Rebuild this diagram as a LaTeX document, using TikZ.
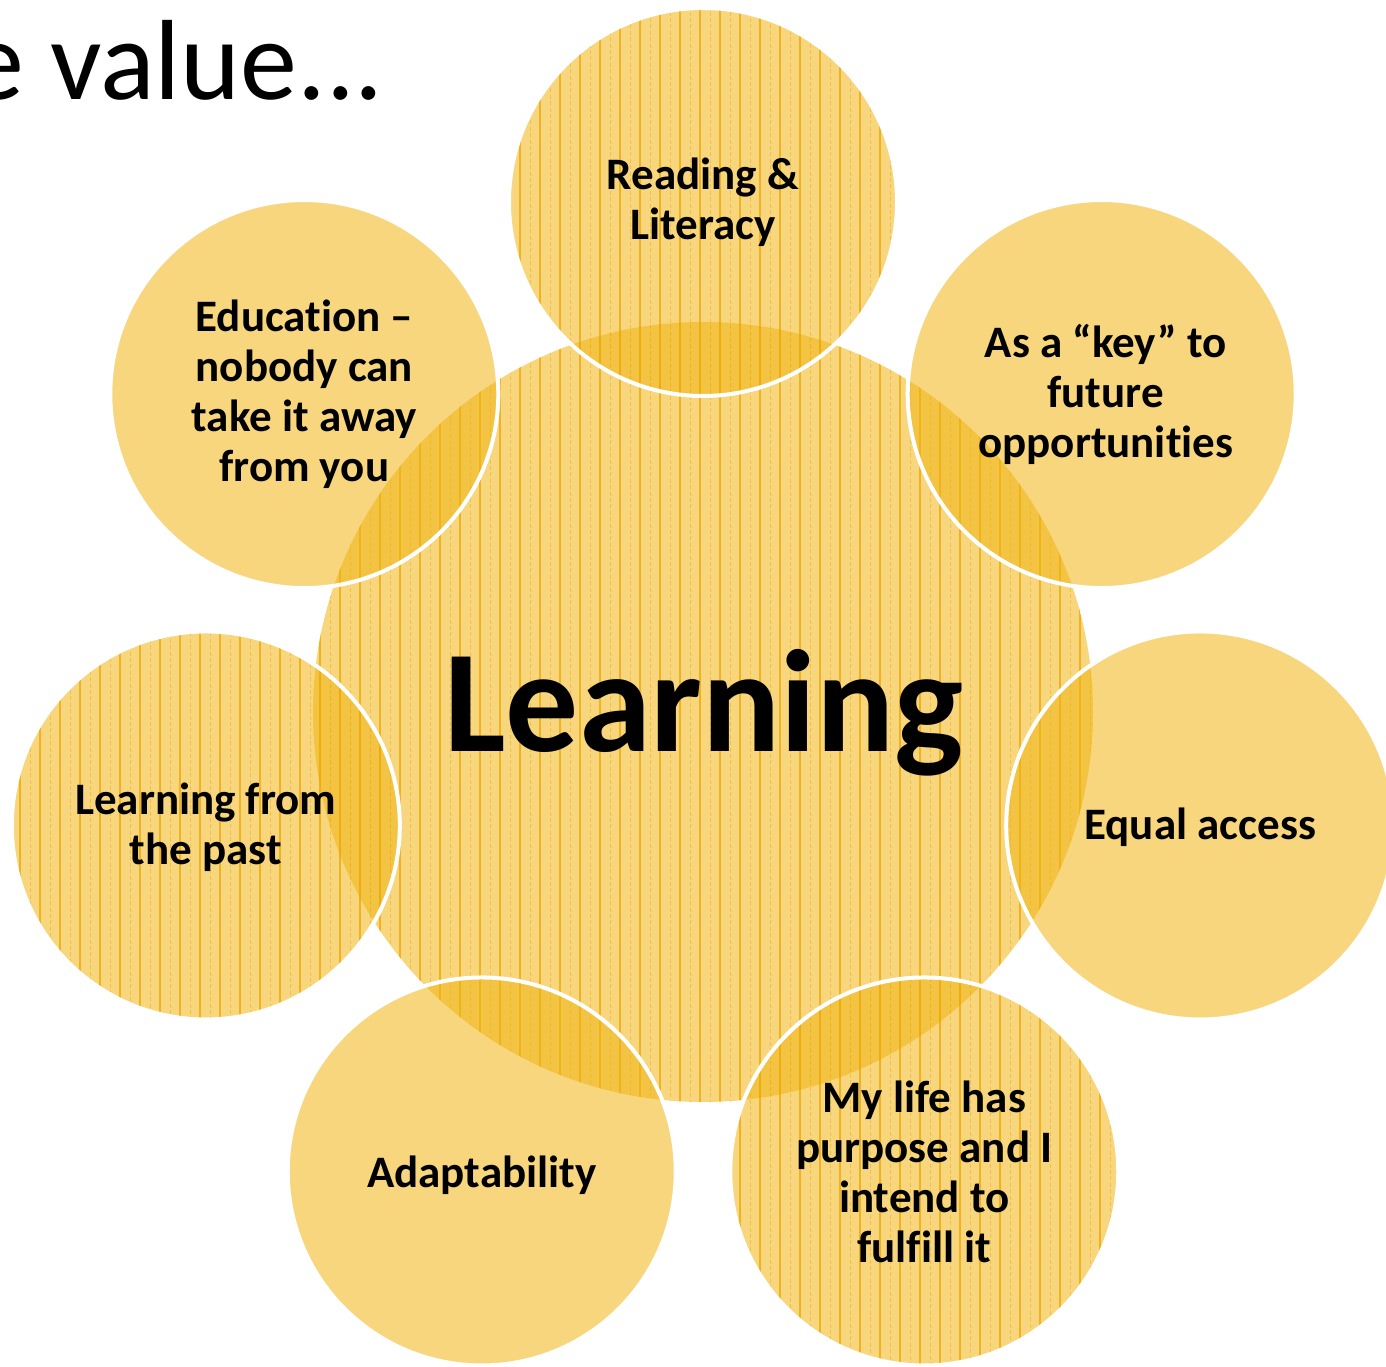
\documentclass[tikz,border=0pt]{standalone}
\usepackage{fontspec}
\setmainfont{Carlito}[Ligatures={NoCommon}]
\definecolor{gold}{RGB}{240,180,20}
\definecolor{goldline}{RGB}{238,172,8}
\tikzset{
  lbl/.style={font=\bfseries\fontsize{22.5}{25}\selectfont, align=center, text=black, inner sep=0pt},
  bubblefill/.style={fill=gold, fill opacity=0.55},
  bubbleedge/.style={draw=white, line width=2pt},
  stripe/.style={draw=goldline, line width=0.6pt, opacity=0.8},
  stripetwo/.style={draw=goldline, line width=0.5pt, opacity=0.5, dash pattern=on 2pt off 1.2pt}
}
\newcommand{\stripesin}[2]{%
  \begin{scope}
    \clip (#1) circle[radius=#2];
    \foreach \xx in {0,20,...,1400} {
      \draw[stripe] (\xx,0) -- (\xx,1366);
      \draw[stripetwo] (\xx+10,0) -- (\xx+10,1366);
    }
  \end{scope}}
\begin{document}
\begin{tikzpicture}[x=0.5pt,y=0.5pt]
\clip (0,0) rectangle (1386,1366);
\coordinate (C) at (703,654);
\foreach \i/\a in {0/90, 1/38.571, 2/-12.857, 3/-64.286, 4/-115.714, 5/-167.143, 6/141.429}
  \coordinate (o\i) at ([shift={(\a:510)}]C);

% title
\node[font=\fontsize{57}{60}\selectfont, anchor=base east, inner sep=0pt] (title) at (384,1266) {We value...};

% centre circle
\fill[bubblefill] (C) circle[radius=390];
\stripesin{C}{390}

% outer circles
\foreach \i/\p in {0/1, 1/0, 2/0, 3/1, 4/0, 5/1, 6/0} {
  \fill[bubblefill] (o\i) circle[radius=194];
  \ifnum\p=1 \stripesin{o\i}{194}\fi
  \draw[bubbleedge] (o\i) circle[radius=194];
}

% labels
\node[font=\bfseries\fontsize{72.8}{80}\selectfont, anchor=base, inner sep=0pt] (learning) at (704,614) {Learning};
\node[lbl] (t0) at (o0) {Reading \&\\Literacy};
\node[lbl] (t1) at ([xshift=2]o1) {As a “key” to\\future\\opportunities};
\node[lbl] (t2) at ([yshift=-1]o2) {Equal access};
\node[lbl] (t3) at (o3) {My life has\\purpose and I\\intend to\\fulfill it};
\node[lbl] (t4) at ([yshift=-2]o4) {Adaptability};
\node[lbl] (t5) at ([yshift=-1]o5) {Learning from\\the past};
\node[lbl] (t6) at (o6) {Education –\\nobody can\\take it away\\from you};
\end{tikzpicture}
\end{document}
